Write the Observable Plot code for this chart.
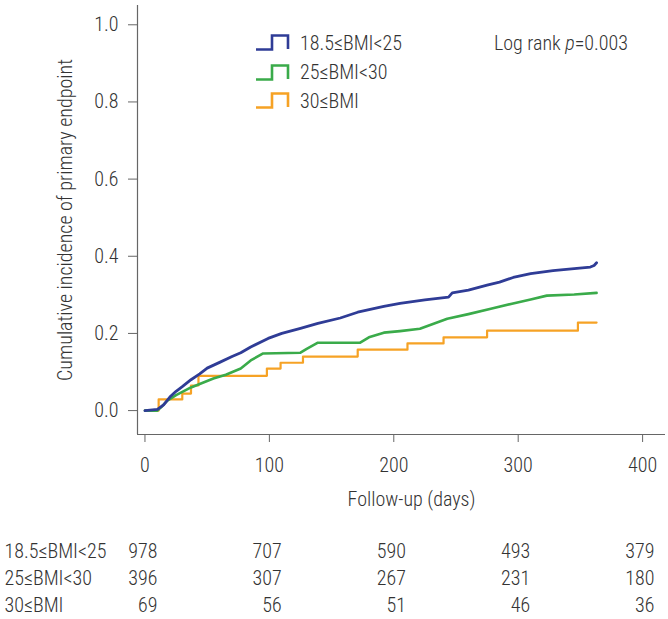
<!DOCTYPE html>
<html><head><meta charset="utf-8">
<script src="https://cdn.jsdelivr.net/npm/d3@7"></script>
<script src="https://cdn.jsdelivr.net/npm/@observablehq/plot@0.6"></script>
<style>
body{margin:0;background:#fff;}
#wrap{position:relative;width:668px;height:619px;font-family:'Roboto Condensed','Liberation Sans Narrow',Roboto,sans-serif;font-weight:300;color:#333;overflow:hidden;}
#wrap svg{display:block;font-weight:300;}
.leg{position:absolute;left:256px;height:20px;display:flex;align-items:center;font-size:20px;line-height:20px;white-space:nowrap;}
.leg svg{margin-right:10px;}
.lr{position:absolute;left:494px;top:33px;font-size:20px;line-height:20px;white-space:nowrap;}
</style></head><body><div id="wrap"></div>
<script>
const groups = ["18.5≤BMI<25", "25≤BMI<30", "30≤BMI"];
const colors = ["#2f3c96", "#3aab4a", "#f6a225"];

const blueDays = [0, 10, 15, 20, 25, 30, 37, 44, 50, 60, 70, 77, 85, 99, 110, 125, 139, 157, 171, 192, 205, 225, 244, 247, 260, 275, 285, 296, 310, 328, 345, 358, 361, 363];
const blueInc  = [0, 0.003, 0.015, 0.035, 0.05, 0.062, 0.08, 0.095, 0.11, 0.125, 0.14, 0.15, 0.165, 0.187, 0.2, 0.213, 0.226, 0.24, 0.255, 0.27, 0.278, 0.287, 0.294, 0.305, 0.312, 0.325, 0.333, 0.345, 0.355, 0.363, 0.368, 0.372, 0.376, 0.383];

const greenDays = [0, 10, 14, 18, 25, 37, 45, 55, 65, 77, 85, 95, 125, 130, 139, 173, 180, 192, 205, 221, 232, 243, 260, 278, 295, 310, 323, 345, 363];
const greenInc  = [0, 0, 0.012, 0.026, 0.04, 0.06, 0.07, 0.083, 0.093, 0.109, 0.13, 0.148, 0.15, 0.16, 0.176, 0.176, 0.19, 0.202, 0.206, 0.212, 0.225, 0.238, 0.25, 0.264, 0.277, 0.288, 0.298, 0.301, 0.305];

const orangeDays = [0, 11, 30, 37, 43, 98, 109, 127, 171, 211, 240, 275, 348, 363];
const orangeInc  = [0, 0.029, 0.044, 0.065, 0.09, 0.109, 0.124, 0.14, 0.158, 0.174, 0.19, 0.207, 0.228, 0.228];

const xTicks = [0, 100, 200, 300, 400];
const yTicks = [0, 0.2, 0.4, 0.6, 0.8, 1.0];
const riskDays = [0, 100, 200, 300, 400];
const riskBlue = [978, 707, 590, 493, 379];
const riskGreen = [396, 307, 267, 231, 180];
const riskOrange = [69, 56, 51, 46, 36];

const xLabel = "Follow-up (days)";
const yLabel = "Cumulative incidence of primary endpoint";
const logRank = "Log rank ";

const FONT = "'Roboto Condensed','Liberation Sans Narrow',Roboto,sans-serif";
const AXIS = "#666";

const toRows = (days, vals, g) => days.map((d, i) => ({day: d, inc: vals[i], group: g}));
const blue = toRows(blueDays, blueInc, groups[0]);
const green = toRows(greenDays, greenInc, groups[1]);
const orange = toRows(orangeDays, orangeInc, groups[2]);

const xDomain = [-6, 418.4];
const yDomain = [-0.062, 1.05];

const main = Plot.plot({
  width: 668, height: 530,
  marginLeft: 137, marginRight: 3, marginTop: 5, marginBottom: 96,
  style: {fontFamily: FONT, fontSize: "20px", fontWeight: 300, color: "#333", background: "transparent", overflow: "visible"},
  x: {domain: xDomain},
  y: {domain: yDomain},
  color: {domain: groups, range: colors},
  marks: [
    Plot.ruleX([xDomain[0]], {stroke: AXIS, strokeWidth: 1.2}),
    Plot.ruleY([yDomain[0]], {stroke: AXIS, strokeWidth: 1.2}),
    Plot.axisY({ticks: yTicks, tickFormat: d3.format(".1f"), tickSize: 9, tickPadding: 10, stroke: AXIS, label: null}),
    Plot.axisX({ticks: xTicks, tickSize: 8, tickPadding: 15, stroke: AXIS, label: null}),
    Plot.text([yLabel], {frameAnchor: "left", textAnchor: "middle", rotate: -90, dx: -72, fill: "#333"}),
    Plot.text([xLabel], {frameAnchor: "bottom", lineAnchor: "top", dx: 10, dy: 57, fill: "#333"}),
    Plot.line(orange, {x: "day", y: "inc", stroke: "group", curve: "step-after", strokeWidth: 2.2}),
    Plot.line(green, {x: "day", y: "inc", stroke: "group", strokeWidth: 2.6}),
    Plot.line(blue, {x: "day", y: "inc", stroke: "group", strokeWidth: 2.8})
  ]
});

const risk = [];
riskDays.forEach((d, i) => {
  risk.push({day: d, n: riskBlue[i], group: groups[0]});
  risk.push({day: d, n: riskGreen[i], group: groups[1]});
  risk.push({day: d, n: riskOrange[i], group: groups[2]});
});

const table = Plot.plot({
  width: 668, height: 89,
  margin: 0,
  style: {fontFamily: FONT, fontSize: "20px", fontWeight: 300, color: "#333", background: "transparent", overflow: "visible"},
  x: {domain: [0, 400], range: [157, 654], axis: null},
  y: {type: "point", domain: groups, range: [20.6, 75.6], padding: 0, axis: null},
  marks: [
    Plot.text(groups, {frameAnchor: "left", y: d => d, text: d => d, textAnchor: "start", dx: 4, fill: "#333"}),
    Plot.text(risk, {x: "day", y: "group", text: "n", textAnchor: "end", fill: "#333"})
  ]
});

const wrap = document.getElementById("wrap");
wrap.appendChild(main);
wrap.appendChild(table);

const tops = [32.5, 62, 90.5];
groups.forEach((g, i) => {
  const div = document.createElement("div");
  div.className = "leg";
  div.style.top = tops[i] + "px";
  div.innerHTML = `<svg width="34" height="17" viewBox="0 0 34 17"><path d="M0,15.5H16V1.5H32V15" fill="none" stroke="${colors[i]}" stroke-width="2.6"/></svg><span>${g}</span>`;
  wrap.appendChild(div);
});
const lr = document.createElement("div");
lr.className = "lr";
lr.innerHTML = logRank + "<i>p</i>=0.003";
wrap.appendChild(lr);
</script></body></html>
